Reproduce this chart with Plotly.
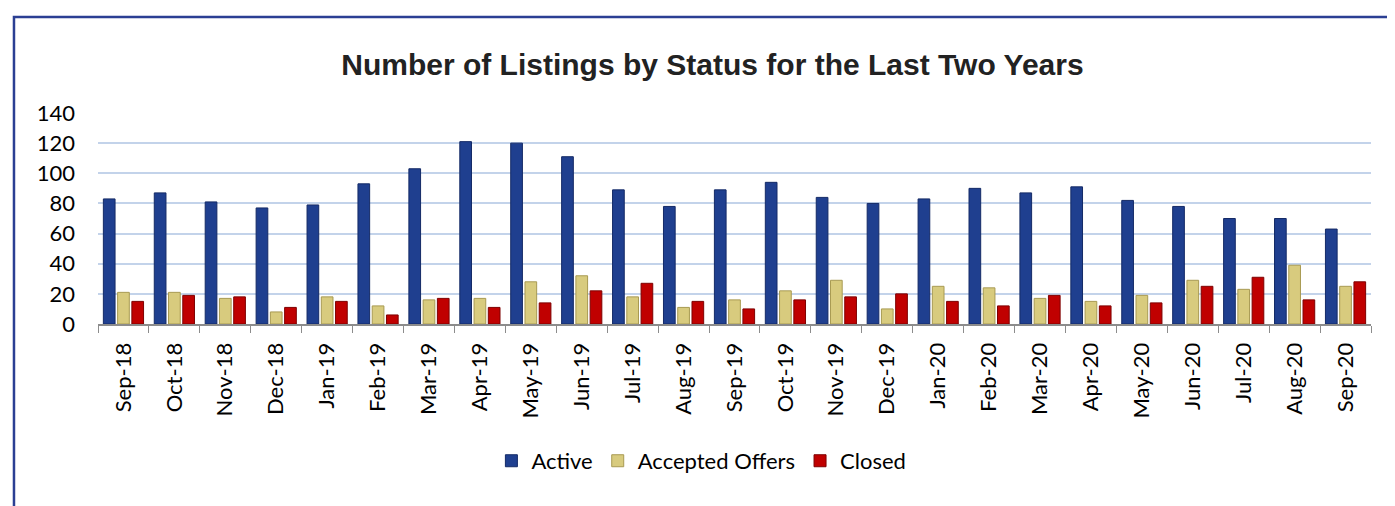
import plotly.graph_objects as go

months = ["Sep-18", "Oct-18", "Nov-18", "Dec-18", "Jan-19", "Feb-19", "Mar-19", "Apr-19",
          "May-19", "Jun-19", "Jul-19", "Aug-19", "Sep-19", "Oct-19", "Nov-19", "Dec-19",
          "Jan-20", "Feb-20", "Mar-20", "Apr-20", "May-20", "Jun-20", "Jul-20", "Aug-20", "Sep-20"]
active = [83, 87, 81, 77, 79, 93, 103, 121, 120, 111, 89, 78, 89,
          94, 84, 80, 83, 90, 87, 91, 82, 78, 70, 70, 63]
accepted_offers = [21, 21, 17, 8, 18, 12, 16, 17, 28, 32, 18, 11, 16,
                   22, 29, 10, 25, 24, 17, 15, 19, 29, 23, 39, 25]
closed = [15, 19, 18, 11, 15, 6, 17, 11, 14, 22, 27, 15, 10,
          16, 18, 20, 15, 12, 19, 12, 14, 25, 31, 16, 28]

series = [
    ("Active", active, "#1F3F8F", "#142A66"),
    ("Accepted Offers", accepted_offers, "#D8CB7E", "#A89A52"),
    ("Closed", closed, "#C00000", "#7E0000"),
]

fig = go.Figure()
for name, vals, color, edge in series:
    fig.add_trace(go.Bar(
        name=name,
        x=months,
        y=vals,
        marker=dict(color=color, line=dict(color=edge, width=1)),
    ))

fig.update_layout(
    width=1395,
    height=506,
    margin=dict(l=90, r=32, t=105, b=190),
    paper_bgcolor="white",
    plot_bgcolor="white",
    barmode="group",
    bargap=0.16,
    bargroupgap=0.18,
    font=dict(family="Lato, Open Sans, sans-serif", color="black"),
    title=dict(
        text="<b>Number of Listings by Status for the Last Two Years</b>",
        font=dict(family="Liberation Sans, Arial, sans-serif", size=30, color="#222222"),
        x=0.505, xanchor="center", y=0.889, yanchor="middle",
    ),
    legend=dict(
        orientation="h", x=0.474, xanchor="center", y=-0.649, yanchor="middle",
        font=dict(size=22), traceorder="normal",
    ),
    yaxis=dict(
        range=[0, 140], dtick=20, showgrid=True, gridcolor="#C3D3EA", gridwidth=2,
        tickfont=dict(size=22), ticks="", zeroline=False, showline=False,
        ticklabelstandoff=22,
    ),
    xaxis=dict(
        tickangle=-90, tickfont=dict(size=22), ticks="outside", tickson="boundaries",
        ticklen=7, tickcolor="#8C8C8C", showline=True, linecolor="#8C8C8C", linewidth=2,
        ticklabelstandoff=8,
    ),
    shapes=[dict(
        type="rect", xref="paper", yref="paper",
        x0=-0.066, x1=1.0212, y0=-0.98, y1=1.455,
        line=dict(color="#2B3F93", width=2.5), layer="above",
    )],
)

fig.write_html("out.html")
